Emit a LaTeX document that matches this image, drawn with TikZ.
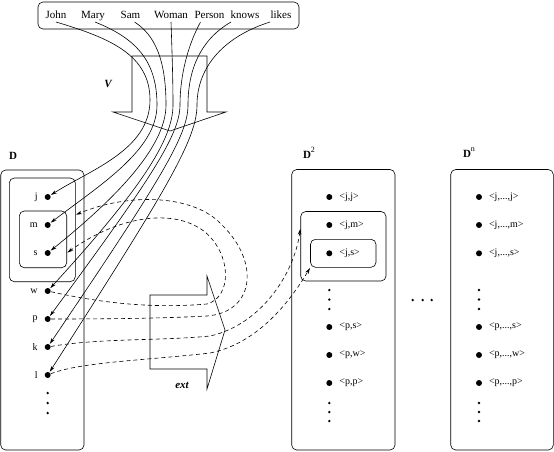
\documentclass[tikz,border=0pt]{standalone}
\usepackage{fontspec}
\setmainfont{Liberation Serif}
\usetikzlibrary{arrows.meta}
\tikzset{>={Stealth[length=6pt,width=3.5pt]}}
\tikzset{
    elem/.style={circle,fill,minimum size=6pt,inner sep=0pt},
    elemlabel/.style={font=\fontsize{10}{12}\selectfont,inner sep=1pt},
    word/.style={font=\fontsize{11}{13}\selectfont,inner sep=0pt,outer sep=3.5pt,text height=7.5pt,text depth=0pt,anchor=base},
    setbox/.style={draw,rectangle,rounded corners=5pt,inner sep=0pt},
    setname/.style={font=\bfseries\fontsize{11}{13}\selectfont,inner sep=0pt},
    mapname/.style={font=\bfseries\itshape\fontsize{11}{13}\selectfont,inner sep=0pt},
    interp/.style={->,shorten >=0.5pt},
    extension/.style={->,dash pattern=on 4pt off 3pt,shorten >=0.5pt},
    every label/.style={elemlabel},
    label distance=5.5pt,
}

\begin{document}
\begin{tikzpicture}[x=1pt,y=-1pt,line width=0.6pt]
\useasboundingbox (0,0) rectangle (554,451);

% the vocabulary
\node[setbox,minimum width=261pt,minimum height=27pt] (vocab) at (168.5,15.5) {};
\node[word] (John) at (56,18.5) {John};
\node[word] (Mary) at (93,18.5) {Mary};
\node[word] (Sam) at (130.5,18.5) {Sam};
\node[word] (Woman) at (171,18.5) {Woman};
\node[word] (Person) at (209.5,18.5) {Person};
\node[word] (knows) at (245,18.5) {knows};
\node[word] (likes) at (281,18.5) {likes};

% big arrow V
\draw (132,56) -- (207,56) -- (207,112) -- (226,112) -- (170,131) -- (113,112) -- (132,112) -- cycle;
\node[mapname] (V) at (108,84) {V};

% domain D
\node[setname] (Dname) at (13,156) {D};
\node[setbox,minimum width=83.3pt,minimum height=280pt] (D) at (42.35,310) {};
\node[setbox,minimum width=66pt,minimum height=103.7pt] (Dmid) at (42.3,229.85) {};
\node[setbox,minimum width=47.4pt,minimum height=56.7pt] (Dinn) at (43,239.35) {};
\node[elem,label=left:j] (j) at (47.7,197) {};
\node[elem,label=left:m] (m) at (47.7,225) {};
\node[elem,label=left:s] (s) at (47.7,253) {};
\node[elem,label=left:w] (w) at (47.7,291) {};
\node[elem,label=left:p] (p) at (47.7,319) {};
\node[elem,label=left:k] (k) at (47.7,347) {};
\node[elem,label=left:l] (l) at (47.7,375) {};
\foreach \y in {393,403,413} \fill (47.7,\y) circle (1.3pt);

% big arrow ext
\draw (150,295) -- (207,295) -- (207,276) -- (225,330) -- (207,389) -- (207,369) -- (150,369) -- cycle;
\node[mapname] (ext) at (182,385) {ext};

% D^2
\node[setname] (D2name) at (309,153) {D\raisebox{6pt}{\mdseries\fontsize{8}{9}\selectfont 2}};
\node[setbox,minimum width=103.3pt,minimum height=280.5pt] (D2) at (343.35,309.75) {};
\node[setbox,minimum width=85.3pt,minimum height=69.5pt] (D2mid) at (343.35,246.25) {};
\node[setbox,minimum width=65.5pt,minimum height=28pt] (D2inn) at (343.25,253.3) {};
\node[elem,label=right:{<j,j>}] (jj) at (329.3,197) {};
\node[elem,label=right:{<j,m>}] (jm) at (329.3,225) {};
\node[elem,label=right:{<j,s>}] (js) at (329.3,253.3) {};
\node[elem,label=right:{<p,s>}] (ps) at (329.3,327) {};
\node[elem,label=right:{<p,w>}] (pw) at (329.3,355) {};
\node[elem,label=right:{<p,p>}] (pp) at (329.3,383) {};
\foreach \y in {290,299.5,309,403,412,421} \fill (329.3,\y) circle (1.3pt);

\foreach \x in {412.7,422.7,431.7} \fill (\x,300) circle (1.3pt);

% D^n
\node[setname] (Dnname) at (469,153) {D\raisebox{6pt}{\mdseries\fontsize{8}{9}\selectfont n}};
\node[setbox,minimum width=102.6pt,minimum height=280.5pt] (Dn) at (502,309.75) {};
\node[elem,label=right:{<j,...,j>}] (njj) at (479,197) {};
\node[elem,label=right:{<j,...,m>}] (njm) at (479,225) {};
\node[elem,label=right:{<j,...,s>}] (njs) at (479,253.3) {};
\node[elem,label=right:{<p,...,s>}] (nps) at (479,327) {};
\node[elem,label=right:{<p,...,w>}] (npw) at (479,355) {};
\node[elem,label=right:{<p,...,p>}] (npp) at (479,383) {};
\foreach \y in {290,299.5,309,403,412,421} \fill (479,\y) circle (1.3pt);

% interpretation of the words
\draw[interp] (John.south) .. controls (110,38) and (150,55) .. (150,100)
    .. controls (150,150) and (90,170) .. (j);
\draw[interp] ([xshift=2pt]Mary.south) .. controls (135,38) and (157,60) .. (157,105)
    .. controls (157,150) and (100,185) .. (m);
\draw[interp] ([xshift=4pt]Sam.south) .. controls (155,35) and (166,60) .. (166,105)
    .. controls (166,145) and (120,195) .. (s);
\draw[interp] (Woman.south) .. controls (172,50) and (173,80) .. (173,105)
    .. controls (173,140) and (140,190) .. (w);
\draw[interp] ([xshift=-9pt]Person.south) .. controls (188,45) and (180,75) .. (180,105)
    .. controls (180,135) and (150,180) .. (p);
\draw[interp] ([xshift=-14pt]knows.south) .. controls (200,40) and (188,70) .. (188,105)
    .. controls (188,135) and (162,178) .. (k);
\draw[interp] ([xshift=-11pt]likes.south) .. controls (220,38) and (197,70) .. (197,105)
    .. controls (197,140) and (165,192) .. (l);

% extensions
\draw[extension] (w) .. controls (110,305) and (160,308) .. (207,304)
    .. controls (232,297) and (232,255) .. (205,232)
    .. controls (175,208) and (120,215) .. ([yshift=-13.5pt]Dinn.east);
\draw[extension] (p) .. controls (120,319) and (170,318) .. (207,316)
    .. controls (255,312) and (260,262) .. (222,225)
    .. controls (195,195) and (130,192) .. ([yshift=15pt]Dmid.east);
\draw[extension] (k) .. controls (100,338) and (160,341) .. (210,336)
    .. controls (260,325) and (294,275) .. ([yshift=18pt]D2mid.west);
\draw[extension] (l) .. controls (80,362) and (150,360) .. (210,353)
    .. controls (260,343) and (292,298) .. (D2inn.south west);
\end{tikzpicture}
\end{document}
